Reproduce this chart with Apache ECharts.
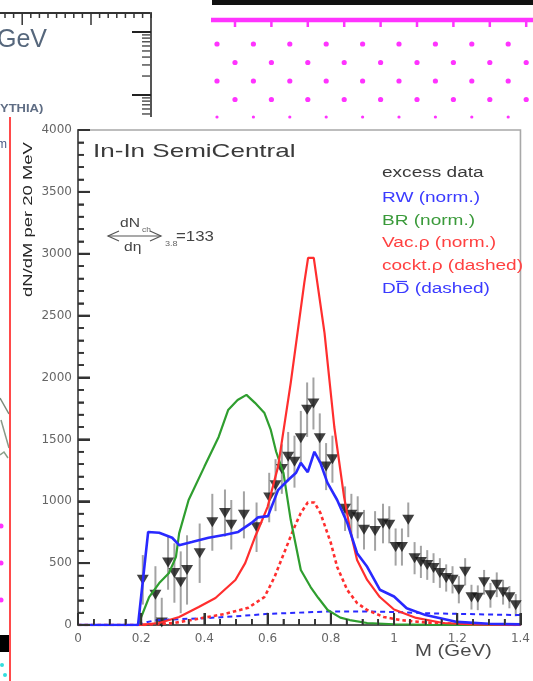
<!DOCTYPE html>
<html>
<head>
<meta charset="utf-8">
<script src="https://cdn.jsdelivr.net/npm/echarts@6/dist/echarts.min.js"></script>
<style>
  html, body { margin: 0; padding: 0; background: #fff; }
  #chart { width: 533px; height: 681px; }
</style>
</head>
<body>
<div id="chart"></div>
<script>
// ---- axis ranges and tick values ----
const massRange = [0, 1.4];
const massStep = 0.2;
const massTicks = [0, 0.2, 0.4, 0.6, 0.8, 1, 1.2, 1.4];
const yieldRange = [0, 4000];
const yieldStep = 500;
const yieldTicks = [0, 500, 1000, 1500, 2000, 2500, 3000, 3500, 4000];

// ---- excess data (NA60-style dimuon excess, 20 MeV bins) ----
const excessMass = [0.205, 0.245, 0.265, 0.285, 0.305, 0.325, 0.345, 0.385, 0.425, 0.465, 0.485, 0.525, 0.565,
  0.605, 0.625, 0.645, 0.665, 0.685, 0.705, 0.725, 0.745, 0.765, 0.785, 0.805,
  0.845, 0.865, 0.885, 0.905, 0.94, 0.965, 0.985,
  1.005, 1.025, 1.045, 1.065, 1.085, 1.105, 1.125, 1.145, 1.165, 1.185,
  1.205, 1.225, 1.245, 1.265, 1.285, 1.305, 1.325, 1.345, 1.365, 1.385];
const excessYield = [365, 245, 20, 505, 420, 345, 445, 580, 830, 905, 810, 890, 790,
  1030, 1130, 1260, 1360, 1320, 1510, 1740, 1790, 1510, 1280, 1340,
  940, 890, 870, 770, 760, 820, 810,
  630, 630, 850, 540, 510, 485, 460, 420, 380, 365,
  285, 430, 225, 220, 345, 240, 325, 265, 225, 160];
const excessError = [200, 230, 200, 220, 240, 250, 280, 240, 230, 190, 200, 190, 200,
  200, 210, 200, 200, 210, 220, 220, 210, 200, 190, 190,
  180, 170, 170, 160, 160, 160, 150,
  150, 150, 140, 130, 130, 120, 120, 120, 110, 110,
  110, 110, 100, 100, 100, 100, 100, 100, 90, 90];

// ---- RW (norm.) ----
const rwMass  = [0, 0.19, 0.222, 0.257, 0.298, 0.32, 0.36, 0.413, 0.466, 0.507, 0.549, 0.57, 0.601, 0.633, 0.664, 0.69, 0.705, 0.727, 0.748, 0.767, 0.789, 0.82, 0.852, 0.883, 0.915, 0.955, 1.0, 1.04, 1.1, 1.2, 1.3, 1.4];
const rwYield = [0, 0, 752, 745, 705, 645, 670, 705, 730, 752, 825, 870, 880, 1090, 1170, 1230, 1310, 1235, 1400, 1310, 1150, 1010, 825, 580, 470, 285, 230, 135, 80, 25, 10, 5];

// ---- BR (norm.) ----
const brMass  = [0, 0.19, 0.225, 0.257, 0.288, 0.31, 0.32, 0.35, 0.40, 0.445, 0.475, 0.505, 0.533, 0.56, 0.59, 0.61, 0.627, 0.65, 0.673, 0.705, 0.736, 0.76, 0.79, 0.83, 0.86, 0.915, 1.0, 1.1, 1.4];
const brYield = [0, 0, 226, 339, 420, 550, 740, 1010, 1280, 1520, 1737, 1818, 1860, 1795, 1713, 1576, 1400, 1230, 850, 445, 307, 220, 121, 60, 40, 16, 6, 2, 0];

// ---- Vac. rho (norm.) ----
const vacMass  = [0, 0.19, 0.257, 0.32, 0.382, 0.435, 0.498, 0.529, 0.56, 0.57, 0.60, 0.633, 0.673, 0.716, 0.728, 0.746, 0.78, 0.811, 0.842, 0.861, 0.883, 0.915, 0.955, 1.0, 1.07, 1.155, 1.25, 1.4];
const vacYield = [0, 0, 16, 65, 146, 218, 364, 500, 711, 770, 955, 1280, 1955, 2764, 2966, 2966, 2360, 1600, 1034, 768, 525, 364, 226, 125, 57, 16, 5, 0];

// ---- cocktail rho (dashed) ----
const cocktMass  = [0, 0.2, 0.3, 0.38, 0.466, 0.539, 0.59, 0.622, 0.643, 0.685, 0.705, 0.727, 0.748, 0.767, 0.8, 0.82, 0.852, 0.883, 0.915, 0.967, 1.02, 1.1, 1.2, 1.4];
const cocktYield = [0, 0, 15, 50, 90, 140, 226, 388, 525, 792, 905, 990, 990, 905, 663, 469, 283, 178, 121, 65, 40, 20, 8, 0];

// ---- open charm DD (dashed) ----
const ddMass  = [0.19, 0.22, 0.25, 0.3, 0.4, 0.5, 0.6, 0.7, 0.8, 0.9, 1.0, 1.1, 1.2, 1.3, 1.4];
const ddYield = [0, 25, 40, 45, 55, 70, 90, 100, 110, 110, 105, 95, 90, 85, 80];

// ---- legend entries ----
const legendHeader = 'excess data';
const legendItems = [
  { text: 'RW (norm.)', color: '#3b3bff' },
  { text: 'BR (norm.)', color: '#3a9a3a' },
  { text: 'Vac.\u03c1 (norm.)', color: '#ff4040' },
  { text: 'cockt.\u03c1 (dashed)', color: '#ff4040' },
  { text: 'DD (dashed)', color: '#3b3bff' }
];

const RED = '#ff2e2e', BLUE = '#2929ff', GREEN = '#2f9e2f';
const SANS = '"Liberation Sans", Arial, sans-serif';

const pairs = (xs, ys) => xs.map((x, i) => [x, ys[i]]);

function txt(text, x, y, size, color, o) {
  o = o || {};
  const align = o.align || 'left';
  return {
    type: 'text', x: x, y: y, rotation: o.rot || 0, scaleX: o.sx || 1.38, z: 100, silent: true,
    style: {
      text: text, fill: color, font: (o.weight || 'normal') + ' ' + size + 'px ' + SANS,
      textAlign: align, textVerticalAlign: 'middle', align: align, verticalAlign: 'middle'
    }
  };
}
function seg(x1, y1, x2, y2, color, w, z) {
  return { type: 'line', silent: true, z: z || 100, shape: { x1, y1, x2, y2 }, style: { stroke: color, lineWidth: w } };
}
function dot(cx, cy, r, color) {
  return { type: 'circle', silent: true, z: 1, shape: { cx, cy, r }, style: { fill: color } };
}

// ---- surrounding panels (neighbouring figures) ----
const deco = [];
// upper-left panel frame and ticks
deco.push(seg(0, 13, 151, 13, '#333', 2, 1));
deco.push(seg(151, 12, 151, 117, '#555', 2, 1));
for (let k = 0; k < 18; k++) {
  const x = 5 + k * 8.6;
  const major = (k === 2 || k === 10);
  deco.push(seg(x, 13, x, major ? 25 : 18, '#333', 1.5, 1));
}
[32, 95].forEach(y => deco.push(seg(132, y, 151, y, '#222', 2, 1)));
for (let k = 2; k <= 9; k++) {
  deco.push(seg(142, 95 - 63 * Math.log10(k), 151, 95 - 63 * Math.log10(k), '#555', 1.5, 1));
  const yb = 95 + 63 * (1 - Math.log10(k));
  if (yb > 95 && yb < 117) deco.push(seg(142, yb, 151, yb, '#555', 1.5, 1));
}
deco.push(txt('GeV', -3, 40, 25, '#56677c', { sx: 1.0 }));
deco.push(txt('YTHIA)', 0, 109, 10, '#5f6d84', { weight: 'bold', sx: 1.3 }));
deco.push(txt('m', -3, 145, 12, '#4a5a86', { sx: 1.0 }));
deco.push({ type: 'polyline', silent: true, z: 1, shape: { points: [[0, 398], [9, 414]] }, style: { stroke: '#7a8a7a', lineWidth: 1.5, fill: null } });
deco.push({ type: 'polyline', silent: true, z: 1, shape: { points: [[1, 420], [9, 448]] }, style: { stroke: '#889988', lineWidth: 1.5, fill: null } });
deco.push({ type: 'polyline', silent: true, z: 1, shape: { points: [[0, 455], [4, 452], [8, 458]] }, style: { stroke: '#8aa08a', lineWidth: 1.5, fill: null } });
[526, 563, 600].forEach(y => deco.push(dot(1, y, 2.5, '#ff33ff')));
deco.push({ type: 'rect', silent: true, z: 1, shape: { x: 0, y: 635, width: 9, height: 17 }, style: { fill: '#000' } });
deco.push(dot(2, 665, 2, '#33dddd'));
deco.push(dot(5, 675, 2, '#33dddd'));
// upper-right dotted panel
deco.push({ type: 'rect', silent: true, z: 1, shape: { x: 212, y: 0, width: 321, height: 5 }, style: { fill: '#111' } });
deco.push(seg(211, 20, 533, 20, '#ff33ff', 4.5, 1));
for (let k = 0; k < 9; k++) deco.push(seg(235 + 36.4 * k, 20, 235 + 36.4 * k, 27, '#ff33ff', 2.5, 1));
[44, 62.5, 81, 99.5, 117].forEach((y, row) => {
  const x0 = row % 2 === 0 ? 217 : 235;
  for (let k = 0; k < 9; k++) deco.push(dot(x0 + 36.4 * k, y, row === 4 ? 1.6 : 2.6, '#ff33ff'));
});
// red separator line
deco.push(seg(10, 117, 10, 681, '#ff4a4a', 2, 1));

// ---- chart annotations ----
const notes = [];
notes.push(txt('In-In SemiCentral', 93, 152, 19, '#3a3a3a', { sx: 1.37 }));
notes.push(txt('dN/dM per 20 MeV', 28, 297, 13, '#262626', { rot: Math.PI / 2, sx: 1.42 }));
notes.push(txt('M (GeV)', 415, 652, 16, '#4a4a4a', { sx: 1.27 }));
// <dN_ch/deta>_3.8 = 133
notes.push(txt('dN', 120, 224, 12, '#444', { sx: 1.3 }));
notes.push(txt('ch', 142, 230, 7, '#666', { sx: 1.2 }));
notes.push(seg(108, 236, 161, 236, '#555', 1.2));
notes.push({ type: 'polyline', silent: true, z: 100, shape: { points: [[119, 231], [108, 236], [119, 241]] }, style: { stroke: '#555', lineWidth: 1.2, fill: null } });
notes.push({ type: 'polyline', silent: true, z: 100, shape: { points: [[150, 231], [161, 236], [150, 241]] }, style: { stroke: '#555', lineWidth: 1.2, fill: null } });
notes.push(txt('d\u03b7', 124, 248, 12, '#444', { sx: 1.3 }));
notes.push(txt('3.8', 165, 244, 7, '#666', { sx: 1.3 }));
notes.push(txt('=133', 176, 237, 14, '#444', { sx: 1.2 }));
// legend
notes.push(txt(legendHeader, 382, 173, 14, '#3a3a3a', { sx: 1.36 }));
legendItems.forEach((it, i) => notes.push(txt(it.text, 382, 198 + i * 22.8, 14, it.color, { sx: 1.36 })));
notes.push(seg(396, 281.5, 407, 281.5, '#3b3bff', 1.2));

// inward-pointing tick marks, placed through the axes' own scales
function renderTicks(params, api) {
  const children = [];
  const line = (a, b, w) => children.push({
    type: 'line', shape: { x1: a[0], y1: a[1], x2: b[0], y2: b[1] },
    style: { stroke: '#333', lineWidth: w }
  });
  massTicks.forEach((m, i) => {
    const p = api.coord([m, yieldRange[0]]);
    line(p, [p[0], p[1] - 12], 2);
    if (i < massTicks.length - 1) {
      for (let k = 1; k < 4; k++) {
        const q = api.coord([m + (massTicks[i + 1] - m) * k / 4, yieldRange[0]]);
        line(q, [q[0], q[1] - 6], 1.6);
      }
    }
  });
  yieldTicks.forEach((v, i) => {
    const p = api.coord([massRange[0], v]);
    line(p, [p[0] + 12, p[1]], 2);
    if (i < yieldTicks.length - 1) {
      for (let k = 1; k < 5; k++) {
        const q = api.coord([massRange[0], v + (yieldTicks[i + 1] - v) * k / 5]);
        line(q, [q[0] + 6, q[1]], 1.6);
      }
    }
  });
  return { type: 'group', children };
}

const chart = echarts.init(document.getElementById('chart'));
const axisText = { color: '#666', fontSize: 12, fontFamily: '"DejaVu Sans", sans-serif' };

chart.setOption({
  animation: false,
  backgroundColor: '#fff',
  grid: {
    left: 78, right: 9, top: 130, bottom: 56, containLabel: false,
    show: true, borderColor: '#a8a8a8', borderWidth: 1.6, backgroundColor: 'transparent'
  },
  xAxis: {
    type: 'value', min: massRange[0], max: massRange[1], interval: massStep,
    axisLine: { show: true, onZero: false, lineStyle: { color: '#555', width: 1.8 } },
    axisTick: { show: true, inside: true, length: 12, lineStyle: { color: '#333', width: 2 } },
    minorTick: { show: true, splitNumber: 4, length: 6, lineStyle: { color: '#333', width: 1.6 } },
    axisLabel: Object.assign({ margin: 8, formatter: v => String(Math.round(v * 10) / 10) }, axisText),
    splitLine: { show: false }
  },
  yAxis: {
    type: 'value', min: yieldRange[0], max: yieldRange[1], interval: yieldStep,
    axisLine: { show: true, onZero: false, lineStyle: { color: '#555', width: 1.8 } },
    axisTick: { show: true, inside: true, length: 12, lineStyle: { color: '#333', width: 2 } },
    minorTick: { show: true, splitNumber: 5, length: 6, lineStyle: { color: '#333', width: 1.6 } },
    axisLabel: Object.assign({ margin: 6, formatter: v => String(v) }, axisText),
    splitLine: { show: false }
  },
  graphic: { elements: deco.concat(notes) },
  series: [
    {
      name: 'axis ticks', type: 'custom', clip: false, z: 10, silent: true,
      data: [[massRange[0], yieldRange[0]]], renderItem: renderTicks
    },
    {
      name: 'excess error', type: 'custom', clip: true, z: 2, silent: true,
      data: excessMass.map((m, i) => [m, excessYield[i] - excessError[i], excessYield[i] + excessError[i]]),
      encode: { x: 0, y: [1, 2] },
      renderItem: (params, api) => {
        const lo = api.coord([api.value(0), api.value(1)]);
        const hi = api.coord([api.value(0), api.value(2)]);
        return { type: 'line', shape: { x1: lo[0], y1: lo[1], x2: hi[0], y2: hi[1] }, style: { stroke: '#a3a3a3', lineWidth: 2 } };
      }
    },
    {
      name: legendHeader, type: 'scatter', z: 3, symbol: 'triangle', symbolRotate: 180, symbolSize: [12, 10],
      itemStyle: { color: '#111' }, data: pairs(excessMass, excessYield)
    },
    { name: 'DD', type: 'line', z: 4, symbol: 'none', data: pairs(ddMass, ddYield), lineStyle: { color: BLUE, width: 2, type: [5, 4] } },
    { name: 'cockt', type: 'line', z: 4, symbol: 'none', data: pairs(cocktMass, cocktYield), lineStyle: { color: RED, width: 2.6, type: [3.5, 3] } },
    { name: 'BR', type: 'line', z: 5, symbol: 'none', data: pairs(brMass, brYield), lineStyle: { color: GREEN, width: 2.2 } },
    { name: 'Vac', type: 'line', z: 5, symbol: 'none', data: pairs(vacMass, vacYield), lineStyle: { color: RED, width: 2.2 } },
    { name: 'RW', type: 'line', z: 6, symbol: 'none', data: pairs(rwMass, rwYield), lineStyle: { color: BLUE, width: 2.6 } }
  ]
});
</script>
</body>
</html>
